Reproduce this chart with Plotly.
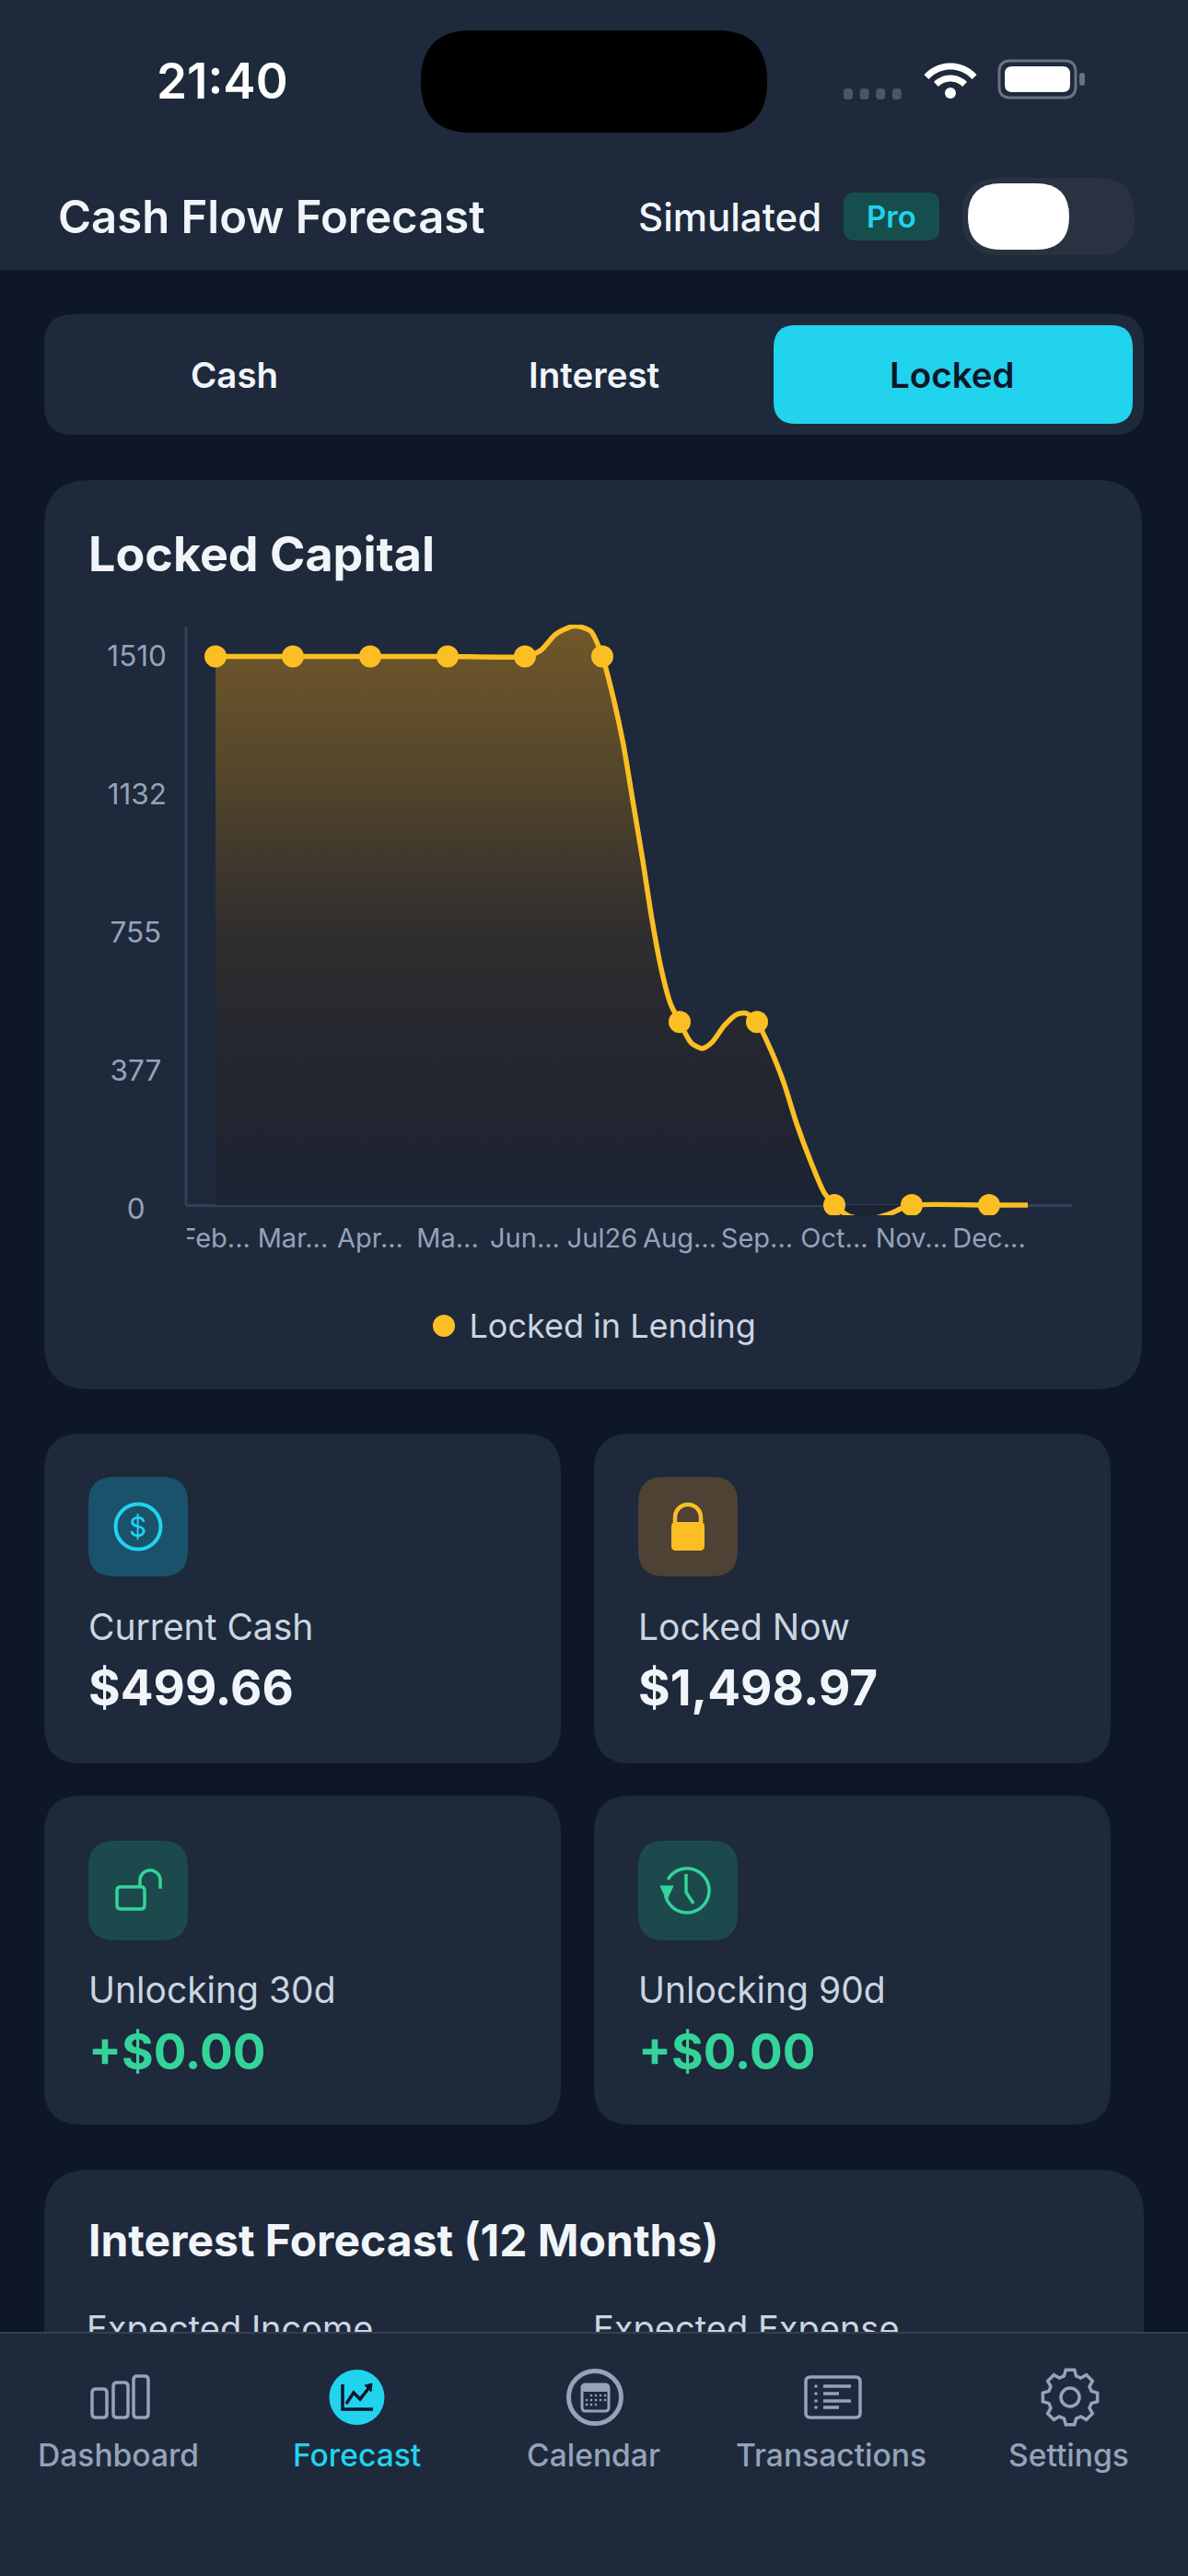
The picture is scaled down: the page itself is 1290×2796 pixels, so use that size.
import math
import plotly.graph_objects as go

W, H = 1290, 2796

# ---- chart data ----
months = ["Feb...", "Mar...", "Apr...", "Ma...", "Jun...", "Jul26", "Aug...", "Sep...", "Oct...", "Nov...", "Dec..."]
locked = [1498.97, 1498.97, 1498.97, 1498.97, 1498.97, 1498.97, 500, 500, 0, 0, 0]
# the drawn line (position along the month axis, value)
curve_x = [0, 1, 2, 3, 4, 4.2, 4.4, 4.64, 4.85, 5, 5.13, 5.27, 5.39, 5.52, 5.64, 5.76, 5.88, 6,
           6.15, 6.29, 6.42, 6.58, 6.74, 6.86, 7, 7.17, 7.35, 7.51, 7.7, 7.87, 8,
           8.19, 8.45, 8.7, 8.88, 9, 10, 10.5]
curve_y = [1499, 1499, 1499, 1499, 1499, 1515, 1560, 1582, 1568, 1499, 1397, 1261, 1110, 946, 783, 647, 551, 500,
           443, 428, 445, 491, 521, 524, 500, 428, 332, 224, 116, 33, 0,
           -30, -38, -25, -8, 0, 0, 0]
y_ticks = [0, 377, 755, 1132, 1510]
y_tick_labels = ["0\u00a0\u00a0\u2009", "377\u2009", "755\u2009", "1132", "1510"]
series_name = "Locked in Lending"

stat_labels = ["Current Cash", "Locked Now", "Unlocking 30d", "Unlocking 90d"]
stat_values = ["$499.66", "$1,498.97", "+$0.00", "+$0.00"]
nav_labels = ["Dashboard", "Forecast", "Calendar", "Transactions", "Settings"]
tabs = ["Cash", "Interest", "Locked"]

# ---- palette ----
PAGE = "#0e172a"
CARD = "#1e293b"
AMBER = "#fbbf24"
CYAN = "#22d3ee"
GREEN = "#34d399"
LIGHT = "#f1f5f9"
SOFT = "#cbd5e1"
MUTED = "#94a3b8"
AXIS = "#334155"
FONT = "Inter"

fx = lambda x: round(x / W, 6)
fy = lambda y: round(1 - y / H, 6)
P = lambda x, y: f"{fx(x)},{fy(y)}"

shapes = []
annotations = []


def path(d, fill=None, line=None, lw=0, layer="below"):
    s = dict(type="path", xref="paper", yref="paper", path=d, layer=layer,
             line=dict(width=lw, color=line or "rgba(0,0,0,0)"))
    if fill:
        s["fillcolor"] = fill
    shapes.append(s)


def rr_d(x0, y0, x1, y1, r):
    return (f"M{P(x0 + r, y0)} L{P(x1 - r, y0)} Q{P(x1, y0)} {P(x1, y0 + r)} "
            f"L{P(x1, y1 - r)} Q{P(x1, y1)} {P(x1 - r, y1)} L{P(x0 + r, y1)} "
            f"Q{P(x0, y1)} {P(x0, y1 - r)} L{P(x0, y0 + r)} Q{P(x0, y0)} {P(x0 + r, y0)} Z")


def rr(x0, y0, x1, y1, r, fill=None, line=None, lw=0, layer="below"):
    path(rr_d(x0, y0, x1, y1, r), fill, line, lw, layer)


def circle(cx, cy, r, fill=None, line=None, lw=0, layer="below"):
    s = dict(type="circle", xref="paper", yref="paper", x0=fx(cx - r), x1=fx(cx + r),
             y0=fy(cy - r), y1=fy(cy + r), layer=layer,
             line=dict(width=lw, color=line or "rgba(0,0,0,0)"))
    if fill:
        s["fillcolor"] = fill
    shapes.append(s)


def poly(pts, line, lw, fill=None, close=False, layer="below"):
    d = "M" + " L".join(P(x, y) for x, y in pts) + (" Z" if close else "")
    path(d, fill, line, lw, layer)


def arc(cx, cy, r, a0, a1, n=24):
    return [(cx + r * math.cos(math.radians(a0 + (a1 - a0) * i / n)),
             cy + r * math.sin(math.radians(a0 + (a1 - a0) * i / n))) for i in range(n + 1)]


def text(t, x, y, size, color, weight=400, anchor="left"):
    if anchor == "left":
        x -= 2  # annotation box padding
    annotations.append(dict(text=t, xref="paper", yref="paper", x=fx(x), y=fy(y), showarrow=False,
                            xanchor=anchor, yanchor="middle", borderpad=0,
                            font=dict(family=FONT, size=size, color=color, weight=weight)))


# ---- page chrome ----
rr(0, -40, W, 293, 0.1, fill=CARD)
rr(457, 33, 833, 144, 55, fill="#000000", layer="above")
text("21:40", 241, 88, 53, "#ffffff", 600, "center")
for i in range(4):
    rr(916 + i * 17.6, 96, 926 + i * 17.6, 108, 4, fill="#4b5563")
poly(arc(1032, 107, 35, 222, 318), "#ffffff", 7)
poly(arc(1032, 107, 22, 225, 315), "#ffffff", 7)
circle(1032, 101, 6, fill="#ffffff")
rr(1085, 66, 1168, 106, 12, line="#6b7280", lw=3)
rr(1091, 72, 1162, 100, 8, fill="#ffffff")
rr(1172, 79, 1178, 93, 3, fill="#6b7280")

text("Cash Flow Forecast", 64, 235, 49, LIGHT, 600)
text("Simulated", 694, 235, 42, LIGHT, 500)
rr(916, 209, 1020, 261, 12, fill="#164e4e")
text("Pro", 968, 235, 33, CYAN, 600, "center")
rr(1045, 193, 1232, 277, 40, fill="#293240")
rr(1051, 199, 1161, 271, 36, fill="#ffffff")

rr(48, 341, 1242, 472, 32, fill=CARD)
rr(840, 353, 1230, 460, 24, fill=CYAN)
for t, cx, c in zip(tabs, [255, 645, 1034], [LIGHT, LIGHT, PAGE]):
    text(t, cx, 407, 38.5, c, 600, "center")

# ---- chart card ----
rr(48, 521, 1240, 1508, 50, fill=CARD)
text("Locked Capital", 97, 601, 52, LIGHT, 700)

PLOT_L, PLOT_R, PLOT_T, PLOT_B = 202, 1164, 678, 1319
PX_PER_STEP = 84
X0_PX = 234
ZERO_PX = 1308
PX_PER_UNIT = 0.3973

# y axis line stops at the top of the scale and at the zero line
shapes.append(dict(type="line", xref="paper", yref="y", x0=fx(PLOT_L), x1=fx(PLOT_L), y0=0, y1=1580,
                   layer="above", line=dict(color=AXIS, width=3)))
# crops the first tick label at the axis edge, as in the app
rr(180, 1325, 203, 1365, 0.1, fill=CARD, layer="above")
# enlarges the legend symbol
circle(482, 1439, 12, fill=AMBER, layer="below")

# ---- stat cards ----
cols = [(48, 609), (645, 1206)]
rows = [(1556, 1914), (1949, 2306)]
content_top = [1554, 1949]
icon_bg = ["#19526a", "#4d4234", "#1c4a4c", "#1c4a4c"]
vals_col = [LIGHT, LIGHT, GREEN, GREEN]
for i in range(4):
    x0, x1 = cols[i % 2]
    y0, y1 = rows[i // 2]
    top = content_top[i // 2]
    rr(x0, y0, x1, y1, 40, fill=CARD)
    rr(x0 + 48, top + 49, x0 + 156, top + 157, 28, fill=icon_bg[i])
    text(stat_labels[i], x0 + 49, top + 211, 39, SOFT, 400)
    text(stat_values[i], x0 + 49, top + 278, 53, vals_col[i], 700)

# dollar icon
circle(150, 1657, 24.5, line=CYAN, lw=4)
text("$", 150, 1657, 30, CYAN, 400, "center")
# lock icon
poly(arc(747, 1647, 14, 180, 360) + [(761, 1655)], AMBER, 4.5)
poly([(733, 1655), (733, 1647)], AMBER, 4.5)
rr(729, 1652, 765, 1683, 5, fill=AMBER)
# open lock icon
rr(127, 2048, 157, 2072, 4, line=GREEN, lw=3.5)
poly([(152, 2048), (152, 2041)] + arc(163, 2041, 11, 180, 360) + [(174, 2050)], GREEN, 3.5)
# history icon
poly(arc(746, 2052, 24, -150, 168, 40), GREEN, 3.5)
poly([(717, 2047), (731, 2047), (724, 2062)], GREEN, 1, fill=GREEN, close=True)
poly([(745, 2034), (745, 2054), (753, 2066)], GREEN, 3.5)

# ---- next card, running under the tab bar ----
rr(48, 2355, 1242, 2900, 50, fill=CARD)
text("Interest Forecast (12 Months)", 97, 2432, 48, LIGHT, 700)

# ---- bottom tab bar ----
rr(-5, 2532, W + 5, 2810, 0.1, fill=CARD, line=AXIS, lw=2, layer="above")
nav_cx = [128, 387, 644, 902, 1160]
for t, cx, c in zip(nav_labels, nav_cx, [MUTED, CYAN, MUTED, MUTED, MUTED]):
    text(t, cx, 2665, 33.6, c, 500, "center")
# dashboard
for (a, b, top) in [(100, 116, 2593), (123, 139, 2586), (145, 161, 2579)]:
    rr(a, top, b, 2624, 4, line=MUTED, lw=3.5, layer="above")
# forecast
circle(387.5, 2602, 30, fill=CYAN, layer="above")
poly([(372, 2588), (372, 2615), (405, 2615)], PAGE, 3.5, layer="above")
poly([(376, 2609), (384, 2597), (391, 2604), (402, 2590)], PAGE, 3.5, layer="above")
poly([(396, 2589), (404, 2587), (403, 2596)], PAGE, 1, fill=PAGE, close=True, layer="above")
# calendar
circle(646, 2602, 28.5, line=MUTED, lw=5, layer="above")
rr(632, 2588, 661, 2617, 4, line=MUTED, lw=3, layer="above")
rr(632, 2588, 661, 2596, 3, fill=MUTED, layer="above")
for ry in (2600, 2605, 2610):
    for cxi in (637, 642, 647, 652, 657):
        if ry == 2600 and cxi == 637:
            continue
        if ry == 2610 and cxi > 647:
            continue
        circle(cxi, ry, 1.3, fill=MUTED, layer="above")
# transactions
rr(875, 2580, 934, 2624, 5, line=MUTED, lw=3.5, layer="above")
for ly, end in zip((2590, 2598, 2606, 2613), (924, 911, 924, 911)):
    circle(886, ly, 1.8, fill=MUTED, layer="above")
    poly([(894, ly), (end, ly)], MUTED, 3.5, layer="above")
# settings gear
gear = []
for k in range(8):
    a = 45 * k - 90
    for off, r in ((-16, 24), (-9, 30), (9, 30), (16, 24)):
        gear.append((1162 + r * math.cos(math.radians(a + off)), 2602 + r * math.sin(math.radians(a + off))))
poly(gear, MUTED, 3.5, close=True, layer="above")
circle(1162, 2602, 10, line=MUTED, lw=3.5, layer="above")

# ---- figure ----
fig = go.Figure()

# the line, with its gradient area
fig.add_trace(go.Scatter(
    x=curve_x,
    y=curve_y,
    mode="lines",
    line=dict(color=AMBER, width=5.5, shape="spline", smoothing=0.7),
    fill="tozeroy",
    fillgradient=dict(type="vertical", start=1590, stop=0,
                      colorscale=[[0, "#74592a"], [0.053, "#6b5429"], [0.254, "#55472b"],
                                  [0.404, "#40382d"], [0.554, "#2e2d2e"], [0.704, "#26282f"],
                                  [0.853, "#212530"], [1, "#1b2434"]]),
    hoverinfo="skip", showlegend=False, xaxis="x", yaxis="y",
))
# the points
fig.add_trace(go.Scatter(
    x=list(range(len(locked))), y=locked, mode="markers", name=series_name,
    marker=dict(color=AMBER, size=24), showlegend=True, xaxis="x", yaxis="y",
))
# text scrolled under the tab bar
fig.add_trace(go.Scatter(
    x=[94, 644], y=[2531, 2531], mode="text", text=["Expected Income", "Expected Expense"],
    textposition="middle right", textfont=dict(family=FONT, size=38, color=SOFT),
    hoverinfo="skip", showlegend=False, xaxis="x2", yaxis="y2",
))

fig.update_layout(
    width=W, height=H, autosize=False,
    margin=dict(l=0, r=0, t=0, b=0, pad=0, autoexpand=False),
    paper_bgcolor=PAGE, plot_bgcolor="rgba(0,0,0,0)",
    font=dict(family=FONT),
    shapes=shapes, annotations=annotations,
    xaxis=dict(
        domain=[PLOT_L / W, PLOT_R / W],
        range=[(PLOT_L - X0_PX) / PX_PER_STEP, (PLOT_R - X0_PX) / PX_PER_STEP],
        tickmode="array", tickvals=list(range(len(months))), ticktext=months,
        tickfont=dict(family=FONT, size=29, color=MUTED), tickangle=0,
        showgrid=False, zeroline=False, showline=False, ticks="", anchor="y",
        ticklabelstandoff=5, fixedrange=True,
    ),
    yaxis=dict(
        domain=[1 - PLOT_B / H, 1 - PLOT_T / H],
        range=[(ZERO_PX - PLOT_B) / PX_PER_UNIT, (ZERO_PX - PLOT_T) / PX_PER_UNIT],
        tickmode="array", tickvals=y_ticks, ticktext=y_tick_labels,
        tickfont=dict(family=FONT, size=31.5, color=MUTED),
        showgrid=False, zeroline=True, zerolinecolor=AXIS, zerolinewidth=3,
        showline=False, ticks="", anchor="x", ticklabelstandoff=20, ticklabelshift=4, fixedrange=True,
    ),
    xaxis2=dict(domain=[0, 1], range=[0, W], visible=False, anchor="y2", fixedrange=True),
    yaxis2=dict(domain=[0, 1], range=[H, 0], visible=False, anchor="x2", fixedrange=True),
    legend=dict(x=fx(454.5), y=fy(1438.5), xanchor="left", yanchor="middle",
                orientation="h", bgcolor="rgba(0,0,0,0)", font=dict(family=FONT, size=36, color=SOFT),
                itemwidth=45, itemclick=False, itemdoubleclick=False),
)

fig.write_html("out.html", post_script="document.body.style.margin='0';", config=dict(displayModeBar=False))
